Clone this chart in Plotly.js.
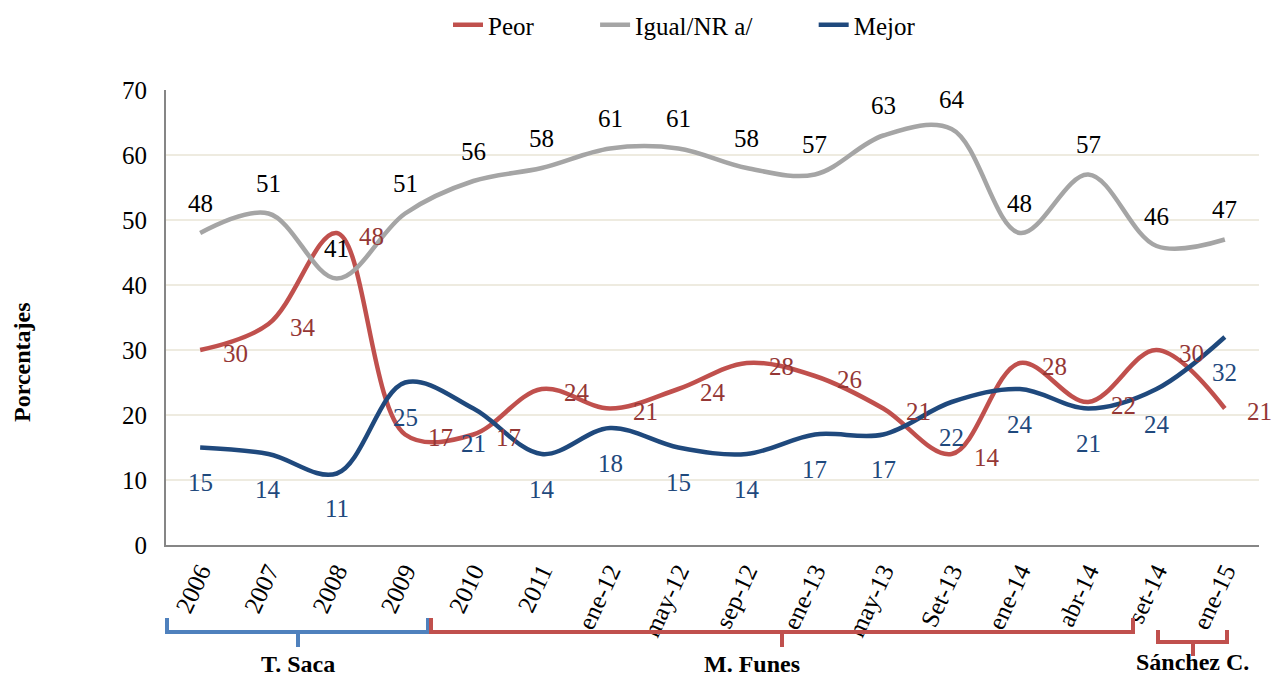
<!DOCTYPE html>
<html><head><meta charset="utf-8">
<script src="https://cdn.plot.ly/plotly-3.0.1.min.js"></script>
<style>body{margin:0;background:#fff}#chart{width:1274px;height:677px}</style>
</head><body><div id="chart"></div>
<script>
var categories = ["2006","2007","2008","2009","2010","2011","ene-12","may-12","sep-12","ene-13","may-13","Set-13","ene-14","abr-14","set-14","ene-15"];
var peor  = [30,34,48,17,17,24,21,24,28,26,21,14,28,22,30,21];
var igual = [48,51,41,51,56,58,61,61,58,57,63,64,48,57,46,47];
var mejor = [15,14,11,25,21,14,18,15,14,17,17,22,24,21,24,32];
var seriesNames = ["Peor","Igual/NR a/","Mejor"];
var periods = ["T. Saca","M. Funes","Sánchez C."];

var FONT = "Times New Roman";
var FS = 25;
var cRed = "#C0504D", cGray = "#A5A5A5", cBlue = "#1F497D";

var sp = "\u00a0\u00a0\u00a0\u00a0\u00a0\u00a0\u00a0\u00a0\u00a0";
var pad = [sp, sp, ""];
function tr(k, y, color){
  return {type:"scatter", mode:"lines", name:seriesNames[k]+pad[k], x:categories, y:y,
    line:{color:color, width:4.5, shape:"spline", smoothing:1}, hoverinfo:"x+y"};
}
var data = [tr(0, peor, cRed), tr(1, igual, cGray), tr(2, mejor, cBlue)];

var annotations = [];
categories.forEach(function(c,i){
  annotations.push({x:i, y:peor[i], text:String(peor[i]), showarrow:false, xshift:35, yshift:-3,
    font:{family:FONT, size:FS, color:"#953735"}});
  annotations.push({x:i, y:igual[i], text:String(igual[i]), showarrow:false, xshift:0, yshift:30,
    font:{family:FONT, size:FS, color:"#000"}});
  annotations.push({x:i, y:mejor[i], text:String(mejor[i]), showarrow:false, xshift:0, yshift:-35,
    font:{family:FONT, size:FS, color:cBlue}});
});

// period braces (paper coords)
var W = 1093, L = 166, H = 455, B = 545;
function px(p){ return (p-L)/W; }
function py(p){ return (B-p)/H; }
function brace(x0,x1,xm,yt,yb,ys,color){
  var path = "M"+px(x0)+","+py(yt)+" L"+px(x0)+","+py(yb)+" L"+px(x1)+","+py(yb)+" L"+px(x1)+","+py(yt)+
             " M"+px(xm)+","+py(yb)+" L"+px(xm)+","+py(ys);
  return {type:"path", xref:"paper", yref:"paper", path:path, line:{color:color, width:4}};
}
var shapes = [
  brace(167,428,298,618,632,647,"#4F81BD"),
  brace(431,1133,782,618,632,647,cRed),
  brace(1158,1227,1193,630,642,656,cRed)
];
var labX = [298, 752, 1192], labY = [664, 664, 662];
periods.forEach(function(p,i){
  annotations.push({xref:"paper", yref:"paper", x:px(labX[i]), y:py(labY[i]), xanchor:"center", yanchor:"middle",
    text:"<b>"+p+"</b>", showarrow:false, font:{family:FONT, size:24, color:"#000"}});
});
annotations.push({xref:"paper", yref:"paper", x:px(22), y:py(362), xanchor:"center", yanchor:"middle",
  textangle:-90, text:"<b>Porcentajes</b>", showarrow:false, font:{family:FONT, size:24, color:"#000"}});

var layout = {
  width:1274, height:677,
  margin:{l:166, r:15, t:90, b:132, autoexpand:false},
  paper_bgcolor:"#fff", plot_bgcolor:"#fff",
  font:{family:FONT, size:FS, color:"#000"},
  showlegend:true,
  legend:{orientation:"h", x:px(448), xanchor:"left", y:py(25), yanchor:"middle",
    font:{family:FONT, size:FS}, traceorder:"normal", bgcolor:"rgba(0,0,0,0)"},
  xaxis:{type:"category", range:[-0.5,15.5], showgrid:false, zeroline:false,
    showline:true, linecolor:"#868686", linewidth:2, ticks:"", tickangle:-65,
    tickfont:{family:FONT, size:FS}, fixedrange:true, automargin:false},
  yaxis:{range:[0,70], dtick:10, showgrid:true, gridcolor:"#EEEBE0", gridwidth:1.5, zeroline:false,
    showline:true, linecolor:"#868686", linewidth:2, ticks:"", tickfont:{family:FONT, size:FS},
    ticklabelstandoff:12, automargin:false},
  annotations:annotations,
  shapes:shapes
};
Plotly.newPlot("chart", data, layout, {displayModeBar:false, staticPlot:true});
</script>
</body></html>
